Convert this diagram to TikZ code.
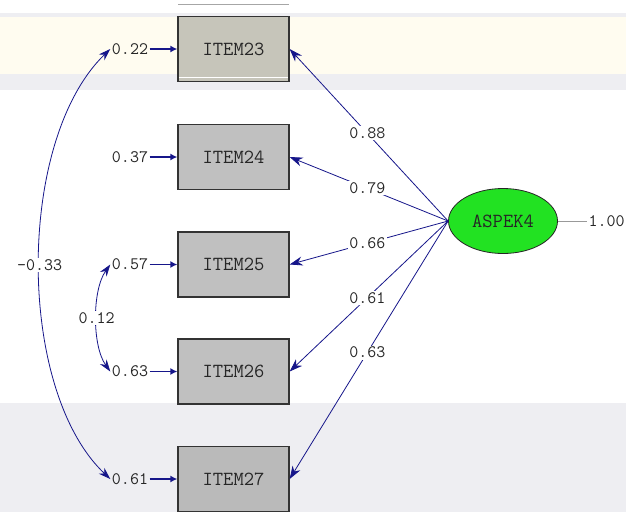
\documentclass[tikz,border=0pt]{standalone}
\usepackage{fontspec}
\usetikzlibrary{arrows.meta,shapes.geometric}
\definecolor{navy}{RGB}{22,22,138}
\definecolor{boxgray}{RGB}{192,192,192}
\definecolor{boxwarm}{RGB}{198,197,186}
\definecolor{latgreen}{RGB}{34,226,34}
\definecolor{band}{RGB}{238,238,242}
\definecolor{cream}{RGB}{255,252,240}
\begin{document}
\begin{tikzpicture}[x=1pt,y=-1pt,
  item/.style={draw=black!80, line width=1.3pt, fill=boxgray, minimum width=111pt,
    minimum height=65pt, inner sep=0pt, text=black!85,
    font=\ttfamily\fontsize{20}{20}\selectfont},
  num/.style={inner sep=1.5pt, text=black!85,
    font=\ttfamily\fontsize{17.5}{18}\selectfont},
  lab/.style={num, fill=white},
  pathline/.style={navy, line width=0.8pt, -{Stealth[length=13pt,width=9pt]}},
  errline/.style={navy, line width=1.8pt, -{Latex[length=7pt,width=7pt]}},
  corr/.style={navy, line width=0.8pt, {Stealth[length=12pt,width=8pt]}-{Stealth[length=12pt,width=8pt]}}
]
\useasboundingbox (0,0) rectangle (626,512);
% faint background bands
\fill[white] (0,0) rectangle (626,512);
\fill[band] (0,13) rectangle (626,17);
\fill[cream] (0,17) rectangle (626,74);
\fill[band] (0,74) rectangle (626,90);
\fill[band] (0,403) rectangle (626,512);
\draw[black!35, line width=1pt] (178,4) -- (289,4);

% observed variables
\node[item, fill=boxwarm] (i23) at (233.5,49) {ITEM23};
\draw[white, line width=1.2pt] (178.8,77.5) -- (288.2,77.5);
\node[item] (i24) at (233.5,157) {ITEM24};
\node[item] (i25) at (233.5,264.5) {ITEM25};
\node[item] (i26) at (233.5,371.5) {ITEM26};
\node[item, fill=black!27] (i27) at (233.5,479) {ITEM27};

% latent variable
\node[ellipse, draw=black!85, line width=0.8pt, fill=latgreen, minimum width=109pt,
  minimum height=65pt, inner sep=0pt, text=black!85,
  font=\ttfamily\fontsize{20}{20}\selectfont] (lat) at (503,221) {ASPEK4};

% error variances
\node[num] (e23) at (130,49) {0.22};
\node[num] (e24) at (130,157) {0.37};
\node[num] (e25) at (130,264.5) {0.57};
\node[num] (e26) at (130,371.5) {0.63};
\node[num] (e27) at (130,479) {0.61};
\foreach \e/\i in {e23/i23,e24/i24,e25/i25,e26/i26,e27/i27}
  \draw[errline] (\e) -- (\i);

% latent variance
\node[num, anchor=west] (var) at (587,221) {1.00};
\draw[black!40, line width=0.8pt] (lat) -- (var);

% loadings
\draw[pathline] (lat.west) -- (i23.east) node[lab, pos=0.51] {0.88};
\draw[pathline] (lat.west) -- (i24.east) node[lab, pos=0.51] {0.79};
\draw[pathline] (lat.west) -- (i25.east) node[lab, pos=0.51] {0.66};
\draw[pathline] (lat.west) -- (i26.east) node[lab, pos=0.51] {0.61};
\draw[pathline] (lat.west) -- (i27.east) node[lab, pos=0.51] {0.63};

% error covariances
\draw[corr] (e23.west) .. controls (16,140) and (16,390) .. (e27.west)
  node[lab, pos=0.5] {-0.33};
\draw[corr] (e25.west) .. controls (92,290) and (92,346) .. (e26.west)
  node[lab, pos=0.5] {0.12};
\end{tikzpicture}
\end{document}
